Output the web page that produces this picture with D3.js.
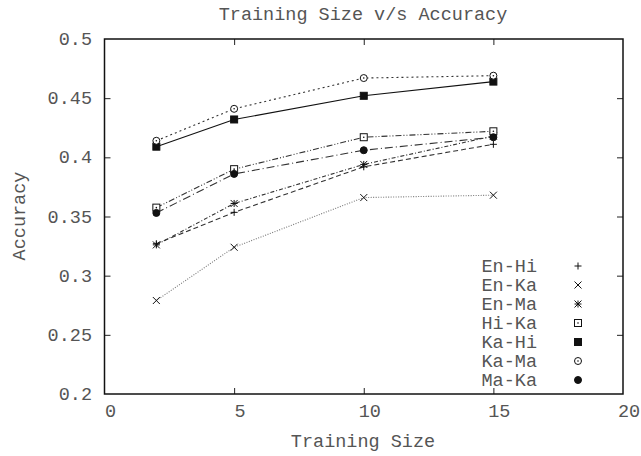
<!DOCTYPE html>
<html>
<head>
<meta charset="utf-8">
<script src="https://cdn.jsdelivr.net/npm/d3@7"></script>
<style>
  body { margin: 0; background: #fff; }
  text { font-family: "Liberation Mono", "DejaVu Sans Mono", monospace; fill: #555; }
</style>
</head>
<body>
<div id="chart"></div>
<script>
// training sizes on the x axis
const sizes = [2, 5, 10, 15];

// accuracy per language pair
const enHi = [0.327, 0.3535, 0.392, 0.411];
const enKa = [0.279, 0.324, 0.366, 0.368];
const enMa = [0.326, 0.361, 0.394, 0.418];
const hiKa = [0.3575, 0.390, 0.417, 0.422];
const kaHi = [0.409, 0.432, 0.452, 0.464];
const kaMa = [0.414, 0.441, 0.467, 0.469];
const maKa = [0.353, 0.386, 0.406, 0.417];

const seriesNames = ["En-Hi", "En-Ka", "En-Ma", "Hi-Ka", "Ka-Hi", "Ka-Ma", "Ma-Ka"];
const seriesValues = [enHi, enKa, enMa, hiKa, kaHi, kaMa, maKa];

const xTicks = [0, 5, 10, 15, 20];
const yTicks = [0.2, 0.25, 0.3, 0.35, 0.4, 0.45, 0.5];

// line and marker looks, in series order
const dashes = ["5,3", "1,1.5", "4,2,1,2", "6,2,1,2,1,2", null, "2,3", "8,3,1,3"];
const strokes = ["#333", "#777", "#333", "#333", "#111", "#333", "#333"];
const markers = ["plus", "cross", "star", "boxdot", "box", "circdot", "circ"];

const w = 641, h = 456;
const padL = 104.5, padR = 623, padT = 39, padB = 394;
const fs = 18.5;

const svg = d3.select("#chart").append("svg")
  .attr("width", w).attr("height", h);

const x = d3.scaleLinear().domain([0, 20]).range([padL, padR]);
const y = d3.scaleLinear().domain([0.2, 0.5]).range([padB, padT]);

// axes: ticks pointing inwards, mirrored on the opposite side
svg.append("g")
  .attr("transform", "translate(0," + padB + ")")
  .call(d3.axisTop(x).tickValues(xTicks.slice(1, -1)).tickSize(6).tickFormat(""))
  .call(g => g.select(".domain").remove());
svg.append("g")
  .attr("transform", "translate(0," + padT + ")")
  .call(d3.axisBottom(x).tickValues(xTicks.slice(1, -1)).tickSize(6).tickFormat(""))
  .call(g => g.select(".domain").remove());
svg.append("g")
  .attr("transform", "translate(" + padL + ",0)")
  .call(d3.axisRight(y).tickValues(yTicks.slice(1, -1)).tickSize(6).tickFormat(""))
  .call(g => g.select(".domain").remove());
svg.append("g")
  .attr("transform", "translate(" + padR + ",0)")
  .call(d3.axisLeft(y).tickValues(yTicks.slice(1, -1)).tickSize(6).tickFormat(""))
  .call(g => g.select(".domain").remove());
svg.selectAll(".tick line").attr("stroke", "#222");

svg.append("rect")
  .attr("x", padL).attr("y", padT)
  .attr("width", padR - padL).attr("height", padB - padT)
  .attr("fill", "none").attr("stroke", "#111").attr("stroke-width", 1.5);

// tick labels
svg.selectAll(".xlab").data(xTicks).enter().append("text")
  .attr("x", d => x(d) + 6).attr("y", 417)
  .attr("text-anchor", "middle").attr("font-size", fs)
  .text(d => d);
svg.selectAll(".ylab").data(yTicks).enter().append("text")
  .attr("x", 92).attr("y", d => y(d) + 6)
  .attr("text-anchor", "end").attr("font-size", fs)
  .text(d => d3.format("")(d));

svg.append("text").attr("x", 363).attr("y", 20)
  .attr("text-anchor", "middle").attr("font-size", fs)
  .text("Training Size v/s Accuracy");
svg.append("text").attr("x", 363).attr("y", 447)
  .attr("text-anchor", "middle").attr("font-size", fs)
  .text("Training Size");
svg.append("text")
  .attr("transform", "translate(25,216) rotate(-90)")
  .attr("text-anchor", "middle").attr("font-size", fs)
  .text("Accuracy");

function drawMarker(g, type, cx, cy) {
  const s = 3.5;
  const stroke = "#111";
  if (type === "plus" || type === "star") {
    g.append("path").attr("d", `M${cx - s},${cy}H${cx + s}M${cx},${cy - s}V${cy + s}`)
      .attr("stroke", stroke).attr("fill", "none");
  }
  if (type === "cross" || type === "star") {
    g.append("path").attr("d", `M${cx - s},${cy - s}L${cx + s},${cy + s}M${cx - s},${cy + s}L${cx + s},${cy - s}`)
      .attr("stroke", stroke).attr("fill", "none");
  }
  if (type === "box" || type === "boxdot") {
    g.append("rect").attr("x", cx - s).attr("y", cy - s).attr("width", 2 * s).attr("height", 2 * s)
      .attr("fill", type === "box" ? stroke : "#fff").attr("stroke", stroke);
  }
  if (type === "circ" || type === "circdot") {
    g.append("circle").attr("cx", cx).attr("cy", cy).attr("r", s)
      .attr("fill", type === "circ" ? stroke : "#fff").attr("stroke", stroke);
  }
  if (type === "boxdot" || type === "circdot") {
    g.append("circle").attr("cx", cx).attr("cy", cy).attr("r", 0.8).attr("fill", stroke);
  }
}

const line = d3.line().x(d => x(d[0])).y(d => y(d[1]));

seriesValues.forEach((vals, i) => {
  const pts = sizes.map((s, j) => [s, vals[j]]);
  svg.append("path")
    .datum(pts)
    .attr("d", line)
    .attr("fill", "none")
    .attr("stroke", strokes[i])
    .attr("stroke-width", 1.1)
    .attr("stroke-dasharray", dashes[i]);
  const g = svg.append("g");
  pts.forEach(p => drawMarker(g, markers[i], x(p[0]), y(p[1])));
});

// legend: labels with their point symbol only
seriesNames.forEach((name, i) => {
  const ly = 266 + i * 19;
  svg.append("text").attr("x", 537).attr("y", ly + 6)
    .attr("text-anchor", "end").attr("font-size", fs)
    .text(name);
  drawMarker(svg.append("g"), markers[i], 578, ly);
});
</script>
</body>
</html>
